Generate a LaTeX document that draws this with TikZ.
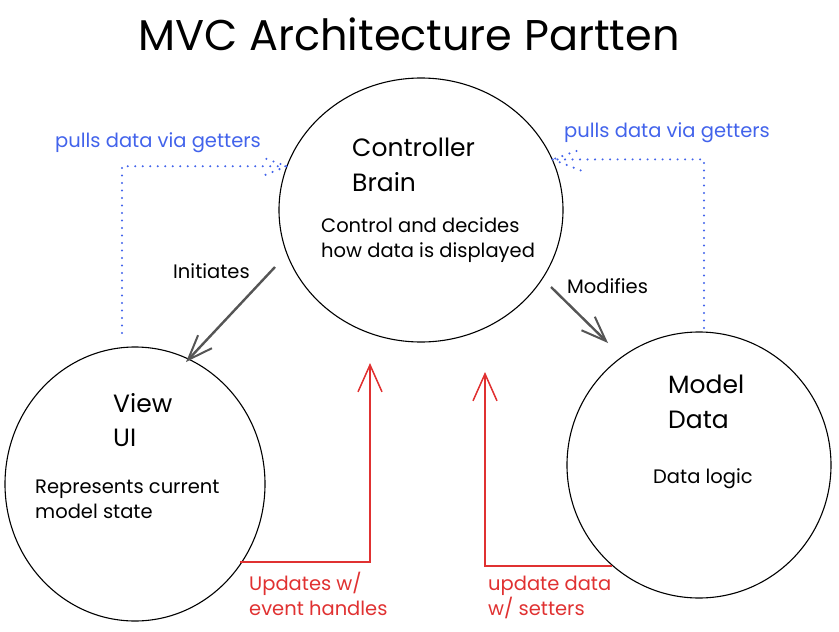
\documentclass[tikz,border=0pt]{standalone}
\usepackage{fontspec}
\setmainfont{Poppins}
\usetikzlibrary{shapes.geometric,arrows.meta}
\definecolor{pullblue}{HTML}{4263EB}
\definecolor{updred}{HTML}{E03131}
\definecolor{flowgray}{HTML}{555555}
\begin{document}
\begin{tikzpicture}[x=1pt,y=-1pt,
  bubble/.style={draw,ellipse,line width=1.1pt,inner sep=0pt},
  titletext/.style={font=\fontsize{43}{47}\selectfont,anchor=base,inner sep=0pt},
  headtext/.style={font=\fontsize{25}{30}\selectfont,anchor=base west,inner sep=0pt},
  bodytext/.style={font=\fontsize{19.5}{23}\selectfont,anchor=base west,inner sep=0pt},
  pulltext/.style={bodytext,text=pullblue},
  redtext/.style={bodytext,text=updred},
  pull/.style={draw=pullblue,line width=2.3pt,line cap=round,dash pattern=on 0pt off 7.5pt},
  upd/.style={draw=updred,line width=1.5pt,-{Straight Barb[length=27pt,width=24pt,line width=1.5pt]}},
  flow/.style={draw=flowgray,line width=2.4pt,-{Straight Barb[length=25pt,width=19pt,line width=2pt]}}
]
\useasboundingbox (0,0) rectangle (839,632);

% title
\node[titletext] (title) at (409,50) {MVC Architecture Partten};

% bubbles
\node[bubble,minimum width=284pt,minimum height=264pt] (ctrl) at (421,210) {};
\node[bubble,minimum width=260pt,minimum height=274pt] (view) at (135,484) {};
\node[bubble,minimum width=264pt,minimum height=266pt] (model) at (699,465) {};

% controller texts
\node[headtext] (ctrlA) at (352,156) {Controller};
\node[headtext] (ctrlB) at (352,191) {Brain};
\node[bodytext] (ctrlC) at (321,232) {Control and decides};
\node[bodytext] (ctrlD) at (321,257) {how data is displayed};

% view texts
\node[headtext] (viewA) at (113,412) {View};
\node[headtext] (viewB) at (113,446) {UI};
\node[bodytext] (viewC) at (35,493) {Represents current};
\node[bodytext] (viewD) at (35,518) {model state};

% model texts
\node[headtext] (modelA) at (668,393) {Model};
\node[headtext] (modelB) at (668,428) {Data};
\node[bodytext] (modelC) at (653,483) {Data logic};

% solid arrows
\coordinate (iniS) at (275,267);
\coordinate (iniE) at (186,362);
\coordinate (modS) at (551,287);
\coordinate (modE) at (608,343);
\draw[flow] (iniS) -- (iniE);
\draw[flow] (modS) -- (modE);
\node[bodytext] (iniL) at (173,278) {Initiates};
\node[bodytext] (modL) at (567,293) {Modifies};

% dotted getter arrows
\coordinate (pl0) at (122,333);
\coordinate (plE) at (ctrl.162);
\draw[pull] (pl0) |- (plE) -- ++(-27,-10) (plE) -- ++(-27,11);
\node[pulltext] (plL) at (55,147) {pulls data via getters};

\coordinate (pr0) at (704,328);
\coordinate (prE) at (ctrl.21.5);
\draw[pull] (pr0) |- (prE) -- ++(28,-10) (prE) -- ++(28,11);
\node[pulltext] (prL) at (564,137) {pulls data via getters};

% red update arrows
\coordinate (ul0) at (240,562);
\coordinate (ulE) at (370,363);
\draw[upd] (ul0) -| (ulE);
\node[redtext] (ulA) at (249,590) {Updates w/};
\node[redtext] (ulB) at (249,615) {event handles};

\coordinate (ur0) at (612,566);
\coordinate (urE) at (485,372);
\draw[upd] (ur0) -| (urE);
\node[redtext] (urA) at (488,590) {update data};
\node[redtext] (urB) at (488,615) {w/ setters};
\end{tikzpicture}
\end{document}
